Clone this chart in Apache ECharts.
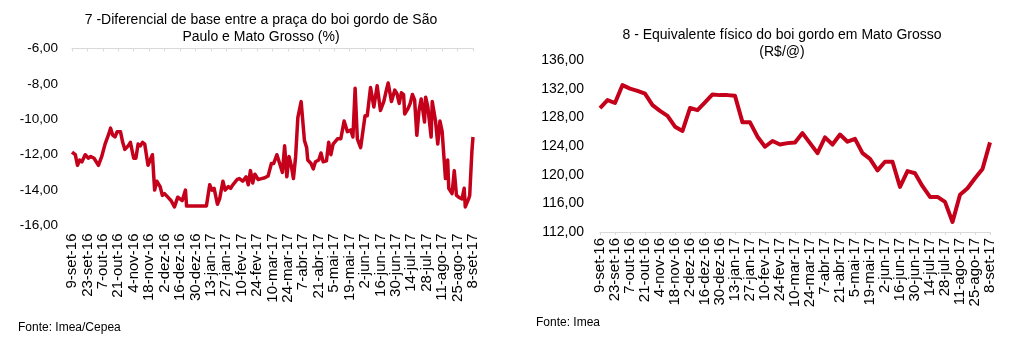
<!DOCTYPE html>
<html>
<head>
<meta charset="utf-8">
<script src="https://cdn.jsdelivr.net/npm/echarts@6/dist/echarts.min.js"></script>
<style>
html,body{margin:0;padding:0;background:#fff;}
#c{width:1017px;height:348px;}
</style>
</head>
<body>
<div id="c"></div>
<script>
// Shared biweekly tick labels (both charts)
const tickLabels = ['9-set-16','23-set-16','7-out-16','21-out-16','4-nov-16','18-nov-16','2-dez-16','16-dez-16','30-dez-16','13-jan-17','27-jan-17','10-fev-17','24-fev-17','10-mar-17','24-mar-17','7-abr-17','21-abr-17','5-mai-17','19-mai-17','2-jun-17','16-jun-17','30-jun-17','14-jul-17','28-jul-17','11-ago-17','25-ago-17','8-set-17'];

// Chart 7: days since 9-set-16, and basis differential (%)
const diffDays = [0,3,5,7,9,12,15,17,20,24,27,30,33,35,37,39,41,44,46,48,51,53,56,58,60,62,64,66,69,71,73,75,77,80,82,84,87,90,93,96,98,100,103,104,122,125,127,129,132,134,137,139,142,144,146,150,152,155,158,160,162,164,166,169,172,175,178,181,183,186,189,191,193,195,197,199,201,203,205,208,211,213,214,217,219,221,224,226,228,231,233,235,237,241,244,247,250,253,255,257,259,262,264,266,268,271,274,277,280,283,285,287,290,293,295,297,299,301,302,305,307,309,311,313,315,317,320,321,323,326,327,330,332,334,336,339,341,342,345,347,349,351,354,356,357,360,361,363,364];
const diffValues = [-11.85,-12.0,-12.6,-12.3,-12.4,-12.0,-12.2,-12.1,-12.2,-12.6,-12.1,-11.4,-10.9,-10.5,-10.9,-11.0,-10.7,-10.7,-11.3,-11.7,-11.5,-11.3,-12.2,-12.2,-11.4,-11.5,-11.3,-11.4,-12.6,-12.3,-12.0,-14.0,-13.5,-13.8,-14.3,-14.2,-14.4,-14.6,-14.95,-14.4,-14.5,-14.6,-14.0,-14.9,-14.9,-13.7,-14.0,-13.9,-14.8,-14.5,-13.5,-14.0,-13.8,-13.9,-13.7,-13.4,-13.35,-13.5,-13.25,-13.7,-12.9,-13.6,-13.1,-13.4,-13.35,-13.3,-13.2,-12.5,-12.5,-12.0,-12.6,-13.0,-11.5,-13.25,-12.1,-12.6,-13.35,-12.1,-9.9,-9.0,-11.2,-11.6,-12.3,-12.5,-12.8,-12.4,-12.3,-11.9,-12.4,-12.35,-11.3,-12.0,-11.4,-11.1,-11.1,-10.1,-10.7,-10.6,-11.0,-8.25,-11.1,-11.6,-10.7,-9.8,-9.8,-8.2,-9.3,-8.1,-9.5,-9.0,-8.45,-7.95,-9.0,-8.35,-8.55,-9.1,-8.5,-8.6,-9.7,-9.4,-9.1,-8.6,-8.9,-10.9,-9.5,-8.85,-10.15,-8.75,-9.3,-11.0,-9.0,-10.1,-11.4,-10.1,-10.7,-13.35,-12.3,-13.9,-14.2,-12.9,-14.3,-14.4,-14.5,-13.9,-14.95,-14.5,-14.3,-11.8,-11.0];

// Chart 8: weekly categories and physical equivalent (R$/@)
const weekCategories = ['9-set-16','16-set-16','23-set-16','30-set-16','7-out-16','14-out-16','21-out-16','28-out-16','4-nov-16','11-nov-16','18-nov-16','25-nov-16','2-dez-16','9-dez-16','16-dez-16','23-dez-16','30-dez-16','6-jan-17','13-jan-17','20-jan-17','27-jan-17','3-fev-17','10-fev-17','17-fev-17','24-fev-17','3-mar-17','10-mar-17','17-mar-17','24-mar-17','31-mar-17','7-abr-17','14-abr-17','21-abr-17','28-abr-17','5-mai-17','12-mai-17','19-mai-17','26-mai-17','2-jun-17','9-jun-17','16-jun-17','23-jun-17','30-jun-17','7-jul-17','14-jul-17','21-jul-17','28-jul-17','4-ago-17','11-ago-17','18-ago-17','25-ago-17','1-set-17','8-set-17'];
const equivValues = [129.3,130.4,130.0,132.5,132.0,131.7,131.3,129.7,128.9,128.2,126.7,126.1,129.3,129.0,130.1,131.2,131.1,131.1,131.0,127.3,127.3,125.3,123.9,124.7,124.2,124.4,124.5,125.8,124.4,123.0,125.2,124.2,125.6,124.6,125.0,123.0,122.2,120.6,121.8,121.8,118.3,120.5,120.2,118.4,116.9,116.9,116.2,113.4,117.2,118.1,119.5,120.8,124.5];

const RED = '#c4001a';
const FONT = 'Liberation Sans, Arial, sans-serif';
const fmt = v => v.toFixed(2).replace('.', ',');

const chart = echarts.init(document.getElementById('c'), null, {renderer: 'canvas'});
chart.setOption({
  animation: false,
  backgroundColor: '#fff',
  textStyle: {fontFamily: FONT, color: '#000'},
  title: [
    {text: '7 -Diferencial de base entre a praça do boi gordo de São\nPaulo e Mato Grosso (%)', left: 256, top: 7, textAlign: 'center',
     textStyle: {fontSize: 14, fontWeight: 'normal', color: '#000', fontFamily: FONT, lineHeight: 16.6}},
    {text: '8 - Equivalente físico do boi gordo em Mato Grosso\n(R$/@)', left: 777, top: 22, textAlign: 'center',
     textStyle: {fontSize: 14, fontWeight: 'normal', color: '#000', fontFamily: FONT, lineHeight: 16.6}},
    {text: 'Fonte: Imea/Cepea', left: 13, top: 317, textStyle: {fontSize: 12, fontWeight: 'normal', color: '#000', fontFamily: FONT}},
    {text: 'Fonte: Imea', left: 531, top: 312, textStyle: {fontSize: 12, fontWeight: 'normal', color: '#000', fontFamily: FONT}}
  ],
  grid: [
    {left: 72, top: 48.5, width: 401, height: 177, containLabel: false},
    {left: 600, top: 60, width: 390, height: 172, containLabel: false}
  ],
  xAxis: [
    {type: 'value', gridIndex: 0, min: 0, max: 364, interval: 14, position: 'bottom',
     axisLine: {show: false}, axisTick: {show: false}, splitLine: {show: false},
     axisLabel: {rotate: 90, margin: 8, fontSize: 15, color: '#000', fontFamily: FONT,
       formatter: v => tickLabels[Math.round(v / 14)] || ''}},
    {type: 'value', gridIndex: 0, min: 0, max: 364, interval: 14, position: 'top',
     axisLine: {show: true, lineStyle: {color: '#d9d9d9', width: 1}},
     axisTick: {show: true, inside: true, length: 3, lineStyle: {color: '#d9d9d9'}},
     splitLine: {show: false}, axisLabel: {show: false}},
    {type: 'category', gridIndex: 1, data: weekCategories, boundaryGap: false,
     axisLine: {show: true, lineStyle: {color: '#d9d9d9', width: 1}},
     axisTick: {show: true, interval: 1, length: 3, lineStyle: {color: '#d9d9d9'}},
     splitLine: {show: false},
     axisLabel: {rotate: 90, margin: 6, interval: 1, fontSize: 15, color: '#000', fontFamily: FONT}}
  ],
  yAxis: [
    {type: 'value', gridIndex: 0, min: -16, max: -6, interval: 2,
     axisLine: {show: false}, axisTick: {show: false}, splitLine: {show: false},
     axisLabel: {margin: 14, fontSize: 13.5, color: '#000', fontFamily: FONT, formatter: fmt}},
    {type: 'value', gridIndex: 1, min: 112, max: 136, interval: 4,
     axisLine: {show: false}, axisTick: {show: false}, splitLine: {show: false},
     axisLabel: {margin: 16, fontSize: 14, color: '#000', fontFamily: FONT, formatter: fmt}}
  ],
  series: [
    {type: 'line', xAxisIndex: 0, yAxisIndex: 0, data: diffDays.map((d, i) => [d, diffValues[i]]),
     showSymbol: false, symbol: 'none', lineStyle: {color: RED, width: 3.5, join: 'round'}},
    {type: 'line', xAxisIndex: 2, yAxisIndex: 1, data: equivValues,
     showSymbol: false, symbol: 'none', lineStyle: {color: RED, width: 4, join: 'round'}}
  ]
});
</script>
</body>
</html>
